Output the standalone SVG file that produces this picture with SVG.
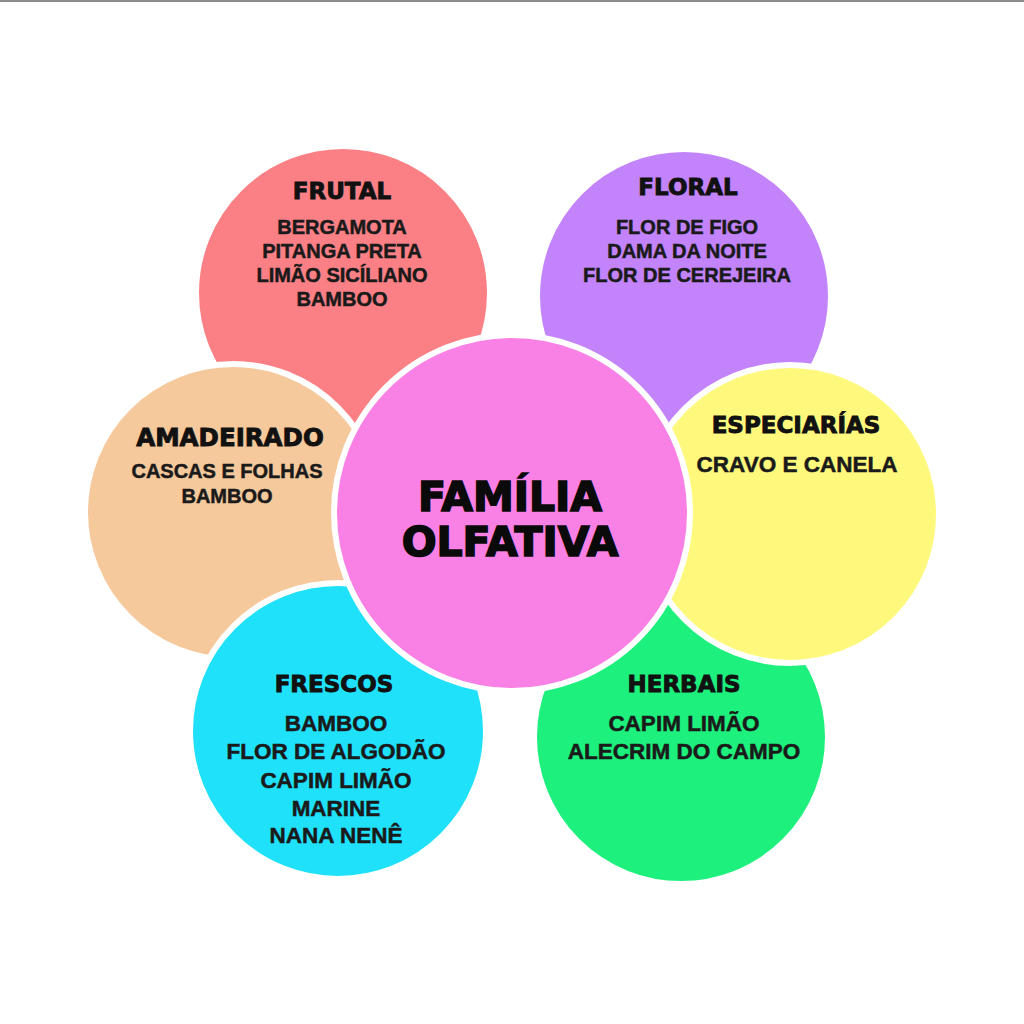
<svg xmlns="http://www.w3.org/2000/svg" width="1024" height="1024" viewBox="0 0 1024 1024">
<style>
.c{stroke:#fff;stroke-width:6}
.h{font-family:"DejaVu Sans","Liberation Sans",sans-serif;font-weight:bold;fill:#111;stroke:#111;stroke-width:0.9;text-anchor:middle}
.t{font-family:"Liberation Sans",Arial,sans-serif;font-weight:bold;fill:#1a1a1a;stroke:#1a1a1a;stroke-width:0.5;text-anchor:middle}
.m{font-family:"DejaVu Sans","Liberation Sans",sans-serif;font-weight:bold;fill:#0a0a0a;stroke:#0a0a0a;stroke-width:1.6;text-anchor:middle;font-size:41px}
</style>
<rect width="1024" height="1024" fill="#fff"/>
<rect x="0" y="0" width="1024" height="2" fill="#8c8c8c"/>
<g id="connectors"></g>
<g id="frutal">
<circle class="c" cx="343" cy="293" r="147" fill="#FA8085"/>
<text class="h" x="342" y="199" font-size="23">FRUTAL</text>
<text class="t" font-size="20"><tspan x="342" y="234">BERGAMOTA</tspan><tspan x="342" y="258">PITANGA PRETA</tspan><tspan x="342" y="282">LIMÃO SICÍLIANO</tspan><tspan x="342" y="306">BAMBOO</tspan></text>
</g>
<g id="floral">
<circle class="c" cx="684" cy="296" r="147" fill="#C283FB"/>
<text class="h" x="688" y="195" font-size="23">FLORAL</text>
<text class="t" font-size="20"><tspan x="687" y="234">FLOR DE FIGO</tspan><tspan x="687" y="258">DAMA DA NOITE</tspan><tspan x="687" y="282">FLOR DE CEREJEIRA</tspan></text>
</g>
<g id="herbais">
<circle class="c" cx="681" cy="737" r="147" fill="#1DF07C"/>
<text class="h" x="684" y="692" font-size="23">HERBAIS</text>
<text class="t" font-size="22.5"><tspan x="684" y="731">CAPIM LIMÃO</tspan><tspan x="684" y="759">ALECRIM DO CAMPO</tspan></text>
</g>
<g id="especiarias">
<circle class="c" cx="790" cy="514" r="149" fill="#FEF97C"/>
<text class="h" x="796" y="433" font-size="23">ESPECIARÍAS</text>
<text class="t" x="797" y="472" font-size="22.5">CRAVO E CANELA</text>
</g>
<g id="amadeirado">
<circle class="c" cx="233" cy="512" r="148" fill="#F5C99B"/>
<text class="h" x="230" y="446" font-size="24.5">AMADEIRADO</text>
<text class="t" font-size="20"><tspan x="227" y="478">CASCAS E FOLHAS</tspan><tspan x="227" y="503">BAMBOO</tspan></text>
</g>
<g id="frescos">
<circle class="c" cx="338" cy="731" r="148" fill="#1FE1FA"/>
<text class="h" x="334" y="692" font-size="23">FRESCOS</text>
<text class="t" font-size="22.5"><tspan x="336" y="731">BAMBOO</tspan><tspan x="336" y="759">FLOR DE ALGODÃO</tspan><tspan x="336" y="788">CAPIM LIMÃO</tspan><tspan x="336" y="816">MARINE</tspan><tspan x="336" y="843">NANA NENÊ</tspan></text>
</g>
<g id="familia">
<circle class="c" cx="512" cy="513" r="178" fill="#F980E5"/>
<text class="m"><tspan x="510" y="511">FAMÍLIA</tspan><tspan x="510" y="556">OLFATIVA</tspan></text>
</g>
</svg>
